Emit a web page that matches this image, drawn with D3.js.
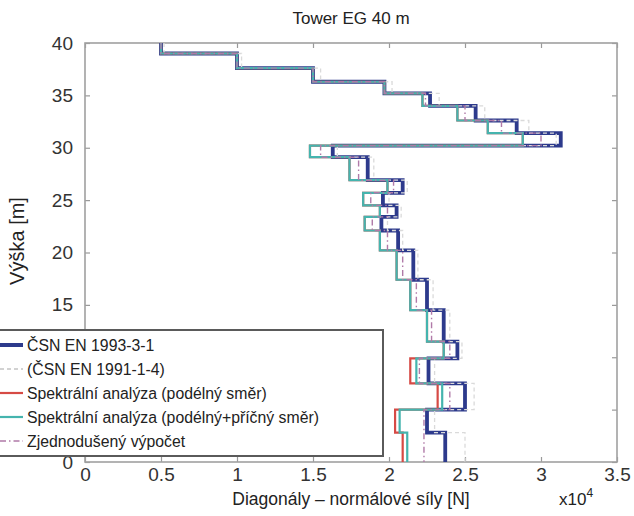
<!DOCTYPE html>
<html>
<head>
<meta charset="utf-8">
<script src="https://cdn.jsdelivr.net/npm/d3@7"></script>
<style>
  body { margin: 0; background: #fff; }
  text { font-family: "Liberation Sans", Arial, sans-serif; }
</style>
</head>
<body>
<script>
// Panel boundaries along the tower height [m], top to bottom
const heights = [40, 39.0, 37.6, 36.3, 35.2, 34.0, 32.6, 31.4, 30.2, 29.1, 26.9, 25.7, 24.5, 23.4, 22.1, 20.2, 17.4, 14.5, 11.5, 9.9, 7.5, 5.0, 2.8, 0];

// Diagonal normal forces per panel [N x 10^4]
const csn1993 = [0.50, 1.00, 1.50, 1.97, 2.27, 2.57, 2.84, 3.13, 1.63, 1.86, 2.09, 1.96, 2.05, 1.95, 2.06, 2.16, 2.25, 2.36, 2.45, 2.26, 2.50, 2.25, 2.37];
const csn1991 = [0.52, 1.03, 1.55, 2.02, 2.33, 2.63, 2.92, 3.10, 1.66, 1.90, 2.12, 2.00, 2.08, 1.99, 2.09, 2.19, 2.29, 2.40, 2.48, 2.30, 2.56, 2.30, 2.50];
const spectralAlong = [0.50, 1.00, 1.50, 1.97, 2.22, 2.45, 2.65, 2.88, 1.48, 1.74, 1.99, 1.83, 1.94, 1.84, 1.94, 2.05, 2.14, 2.25, 2.36, 2.14, 2.32, 2.04, 2.09];
const spectralBoth = [0.50, 1.00, 1.50, 1.97, 2.22, 2.45, 2.65, 2.88, 1.48, 1.74, 1.99, 1.83, 1.94, 1.84, 1.94, 2.05, 2.14, 2.25, 2.36, 2.18, 2.35, 2.07, 2.12];
const simplified = [0.50, 1.00, 1.50, 1.97, 2.24, 2.50, 2.74, 3.00, 1.55, 1.80, 2.03, 1.88, 1.99, 1.89, 1.99, 2.09, 2.18, 2.28, 2.40, 2.20, 2.40, 2.23, 2.23];

const xTicks = [0, 0.5, 1, 1.5, 2, 2.5, 3, 3.5];
const yTicks = [0, 5, 10, 15, 20, 25, 30, 35, 40];
// Height labels that sit under the legend box are left blank
const yHiddenLabels = [5, 10];

const legendLabels = [
  "ČSN EN 1993-3-1",
  "(ČSN EN 1991-1-4)",
  "Spektrální analýza (podélný směr)",
  "Spektrální analýza (podélný+příčný směr)",
  "Zjednodušený výpočet"
];

const W = 634, H = 516;
const plot = { left: 85, right: 617, top: 43, bottom: 462 };

const svg = d3.select("body").append("svg").attr("width", W).attr("height", H);

const x = d3.scaleLinear().domain([0, 3.5]).range([plot.left, plot.right]);
const y = d3.scaleLinear().domain([0, 40]).range([plot.bottom, plot.top]);

// Axes with inward ticks on all four sides
const tickColor = "#9a9a9a";
function styleAxis(g) {
  g.select(".domain").remove();
  g.selectAll(".tick line").attr("stroke", tickColor).attr("stroke-width", 1.2);
  g.selectAll(".tick text").attr("fill", "#333").style("font-size", "19px")
    .style("font-family", "'Liberation Sans', Arial, sans-serif");
}
svg.append("g").attr("transform", `translate(0,${plot.bottom})`)
  .call(d3.axisBottom(x).tickValues(xTicks).tickSize(-5).tickSizeOuter(0).tickPadding(6).tickFormat(d3.format("")))
  .call(styleAxis);
svg.append("g").attr("transform", `translate(${plot.left},0)`)
  .call(d3.axisLeft(y).tickValues(yTicks).tickSize(-5).tickSizeOuter(0).tickPadding(12)
    .tickFormat(d => yHiddenLabels.includes(d) ? "" : d3.format("")(d)))
  .call(styleAxis);
svg.append("g").attr("transform", `translate(0,${plot.top})`)
  .call(d3.axisTop(x).tickValues(xTicks).tickSize(-5).tickSizeOuter(0).tickFormat(""))
  .call(styleAxis);
svg.append("g").attr("transform", `translate(${plot.right},0)`)
  .call(d3.axisRight(y).tickValues(yTicks).tickSize(-5).tickSizeOuter(0).tickFormat(""))
  .call(styleAxis);

// Axes box
svg.append("rect")
  .attr("x", plot.left).attr("y", plot.top)
  .attr("width", plot.right - plot.left).attr("height", plot.bottom - plot.top)
  .attr("fill", "none").attr("stroke", "#a0a0a0").attr("stroke-width", 1.6);

// Step profile: each panel value held constant between its two boundaries
function stepPoints(vals) {
  const pts = [];
  vals.forEach((v, i) => {
    pts.push([v, heights[i]]);
    pts.push([v, heights[i + 1]]);
  });
  return pts;
}
const line = d3.line().x(d => x(d[0])).y(d => y(d[1]));

const series = [
  { vals: csn1993, color: "#2d3a8c", width: 3.8, dash: null },
  { vals: csn1991, color: "#dadada", width: 1.3, dash: "4,3" },
  { vals: spectralAlong, color: "#d64a45", width: 2.2, dash: null },
  { vals: spectralBoth, color: "#45b4ae", width: 2.2, dash: null },
  { vals: simplified, color: "#b07aa8", width: 1.4, dash: "6,3,1.5,3" }
];

svg.append("g").selectAll("path").data(series).join("path")
  .attr("d", s => line(stepPoints(s.vals)))
  .attr("fill", "none")
  .attr("stroke", s => s.color)
  .attr("stroke-width", s => s.width)
  .attr("stroke-dasharray", s => s.dash)
  .attr("stroke-linejoin", "miter");

// Title and axis labels
svg.append("text").attr("x", (plot.left + plot.right) / 2).attr("y", 24)
  .attr("text-anchor", "middle").attr("fill", "#222").style("font-size", "17px")
  .text("Tower EG 40 m");
svg.append("text").attr("x", (plot.left + plot.right) / 2).attr("y", 505)
  .attr("text-anchor", "middle").attr("fill", "#222").style("font-size", "17.5px")
  .text("Diagonály – normálové síly [N]");
svg.append("text").attr("transform", `translate(24,${241}) rotate(-90)`)
  .attr("text-anchor", "middle").attr("fill", "#222").style("font-size", "20px")
  .text("Výška [m]");
const expo = svg.append("text").attr("x", 559).attr("y", 505).attr("fill", "#222").style("font-size", "17px");
expo.append("tspan").text("x10");
expo.append("tspan").attr("dy", -8).style("font-size", "12px").text("4");

// Legend
const legend = svg.append("g");
legend.append("rect").attr("x", -4).attr("y", 330).attr("width", 387).attr("height", 126)
  .attr("fill", "#fff").attr("stroke", "#5a5a5a").attr("stroke-width", 2);
const rowY = d3.scalePoint().domain(d3.range(legendLabels.length)).range([345, 441]);
const rows = legend.selectAll("g.row").data(series).join("g").attr("class", "row")
  .attr("transform", (d, i) => `translate(0,${rowY(i)})`);
rows.append("line").attr("x1", 0).attr("x2", 23)
  .attr("stroke", (s, i) => i === 1 ? "#c4c4c4" : s.color)
  .attr("stroke-width", (s, i) => i === 0 ? 4 : s.width)
  .attr("stroke-dasharray", s => s.dash);
rows.append("text").attr("x", 27).attr("dy", "0.36em").attr("fill", "#222")
  .style("font-size", "15.8px").text((d, i) => legendLabels[i]);
</script>
</body>
</html>
